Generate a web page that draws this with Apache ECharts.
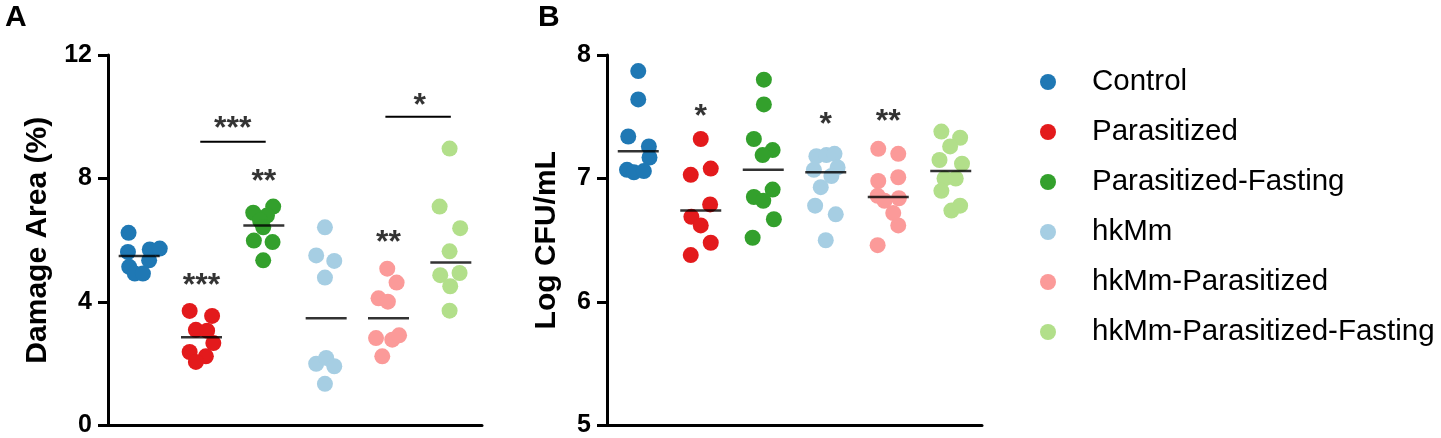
<!DOCTYPE html>
<html lang="en">
<head>
    <meta charset="UTF-8">
    <title>Damage area and CFU</title>
    <script src="https://cdn.jsdelivr.net/npm/echarts@6/dist/echarts.min.js"></script>
    <style>
        html, body { margin: 0; padding: 0; background: #fff; }
    </style>
</head>
<body>
<div id="main" style="width:1441px;height:438px"></div>
<script type="text/javascript">

    const categories = ['Control', 'Parasitized', 'Parasitized-Fasting', 'hkMm', 'hkMm-Parasitized', 'hkMm-Parasitized-Fasting'];

    // panel A - damage area (%)
    const damageControl = [6.24, 5.62, 5.70, 5.73, 5.35, 5.14, 4.92, 4.92];
    const damageParasitized = [3.71, 3.55, 3.10, 3.07, 2.67, 2.38, 2.24, 2.06];
    const damageParFasting = [6.89, 7.09, 6.80, 6.64, 6.42, 5.99, 5.94, 5.35];
    const damageHkMm = [6.42, 5.51, 5.33, 4.79, 2.00, 2.19, 1.92, 1.35];
    const damageHkMmPar = [5.08, 4.63, 4.12, 4.01, 2.83, 2.78, 2.92, 2.24];
    const damageHkMmParFasting = [8.97, 7.09, 6.39, 5.64, 4.87, 4.94, 4.51, 3.72];
    const damageMeans = [5.49, 2.86, 6.48, 3.47, 3.47, 5.28];

    // panel B - log CFU/mL
    const cfuControl = [7.87, 7.64, 7.34, 7.26, 7.17, 7.07, 7.05, 7.06];
    const cfuParasitized = [7.32, 7.08, 7.03, 6.79, 6.69, 6.62, 6.48, 6.38];
    const cfuParFasting = [7.80, 7.60, 7.32, 7.23, 7.19, 6.91, 6.85, 6.82, 6.67, 6.52];
    const cfuHkMm = [7.18, 7.19, 7.20, 7.07, 7.09, 7.02, 6.93, 6.78, 6.71, 6.50];
    const cfuHkMmPar = [7.24, 7.20, 6.98, 7.01, 6.86, 6.82, 6.84, 6.72, 6.62, 6.46];
    const cfuHkMmParFasting = [7.38, 7.33, 7.26, 7.15, 7.12, 7.00, 7.00, 6.90, 6.74, 6.78];
    const cfuMeans = [7.22, 6.74, 7.07, 7.05, 6.85, 7.06];

    // significance marks
    const sigTextA = ['***', '**', '**', '***', '*'];
    const sigCatA = [1, 2, 4, 1.5, 4.5];
    const sigYA = [4.76, 8.14, 6.16, 9.86, 10.59];
    const bracketFromA = [0.98, 3.95];
    const bracketToA = [2.03, 5.0];
    const bracketYA = [9.19, 10.0];
    const sigTextB = ['*', '*', '**'];
    const sigCatB = [1, 3, 4];
    const sigYB = [7.56, 7.50, 7.52];

    // horizontal scatter of the dots, in category widths (layout only)
    const jitterA = [
        [-0.17, -0.18, 0.17, 0.33, 0.16, -0.16, -0.07, 0.06],
        [-0.19, 0.17, -0.09, 0.09, 0.19, -0.19, 0.07, -0.09],
        [-0.17, 0.15, 0.05, -0.06, -0.01, -0.16, 0.14, -0.01],
        [-0.02, -0.16, 0.13, -0.02, -0.16, 0, 0.13, -0.02],
        [-0.02, 0.13, -0.16, -0.01, -0.2, 0.06, 0.17, -0.1],
        [-0.02, -0.18, 0.15, -0.02, -0.17, 0.14, -0.01, -0.02]
    ];
    const jitterB = [
        [0, 0, -0.16, 0.17, 0.18, -0.18, -0.07, 0.09],
        [0, 0.16, -0.16, 0.15, -0.15, 0, 0.16, -0.16],
        [0.01, 0.01, -0.15, 0.15, -0.01, 0.15, -0.15, 0, 0.17, -0.17],
        [-0.15, 0.01, 0.14, -0.19, 0.19, 0.09, -0.08, -0.17, 0.16, 0],
        [-0.16, 0.16, -0.16, 0.16, -0.17, -0.06, 0.17, 0.08, 0.16, -0.17],
        [-0.15, 0.15, -0.01, -0.18, 0.18, -0.1, 0.08, -0.15, 0.01, 0.15]
    ];

    const colors = ['#1f78b4', '#e31a1c', '#33a02c', '#a6cee3', '#fb9a99', '#b2df8a'];
    const FONT = '"Liberation Sans", Arial, sans-serif';

    const groupsA = [damageControl, damageParasitized, damageParFasting, damageHkMm, damageHkMmPar, damageHkMmParFasting];
    const groupsB = [cfuControl, cfuParasitized, cfuParFasting, cfuHkMm, cfuHkMmPar, cfuHkMmParFasting];

    function xAxisFor(gridIndex) {
        return {
            gridIndex: gridIndex,
            type: 'value',
            min: -0.5,
            max: 5.5,
            axisLine: { show: true, onZero: false, lineStyle: { color: '#000', width: 3 } },
            axisTick: { show: false },
            axisLabel: { show: false },
            splitLine: { show: false }
        };
    }

    function yAxisFor(gridIndex, name, min, max, interval, gap) {
        return {
            gridIndex: gridIndex,
            type: 'value',
            min: min,
            max: max,
            interval: interval,
            name: name,
            nameLocation: 'middle',
            nameGap: gap,
            nameTextStyle: { color: '#000', fontSize: 30, fontWeight: 'bold', fontFamily: FONT },
            axisLine: { show: true, onZero: false, lineStyle: { color: '#000', width: 3 } },
            axisTick: { show: true, length: 10, lineStyle: { color: '#000', width: 3 } },
            axisLabel: { color: '#000', fontSize: 25, fontWeight: 'bold', fontFamily: FONT, margin: 16 },
            splitLine: { show: false }
        };
    }

    let series = [];

    function addPanel(axisIdx, groups, jitter, means, sigText, sigCat, sigY) {
        groups.forEach(function (vals, i) {
            series.push({
                name: categories[i],
                type: 'scatter',
                xAxisIndex: axisIdx,
                yAxisIndex: axisIdx,
                symbol: 'circle',
                symbolSize: 16,
                itemStyle: { color: colors[i], opacity: 1 },
                data: vals.map(function (v, k) { return [i + jitter[i][k], v]; })
            });
        });
        // mean bars
        series.push({
            type: 'scatter',
            xAxisIndex: axisIdx,
            yAxisIndex: axisIdx,
            symbol: 'rect',
            symbolSize: [41, 2.5],
            itemStyle: { color: '#000' },
            z: 5,
            data: means.map(function (m, i) { return [i, m]; })
        });
        // asterisks
        series.push({
            type: 'scatter',
            xAxisIndex: axisIdx,
            yAxisIndex: axisIdx,
            symbolSize: 1,
            itemStyle: { color: 'rgba(0,0,0,0)' },
            z: 6,
            label: {
                show: true,
                position: 'inside',
                offset: [0, 8],
                color: '#000',
                fontSize: 32,
                fontWeight: 'bold',
                fontFamily: FONT,
                formatter: function (p) { return p.name; }
            },
            data: sigText.map(function (t, i) { return { name: t, value: [sigCat[i], sigY[i]] }; })
        });
    }

    addPanel(0, groupsA, jitterA, damageMeans, sigTextA, sigCatA, sigYA);
    addPanel(1, groupsB, jitterB, cfuMeans, sigTextB, sigCatB, sigYB);

    // brackets in panel A
    bracketYA.forEach(function (y, i) {
        series.push({
            type: 'line',
            xAxisIndex: 0,
            yAxisIndex: 0,
            symbol: 'none',
            lineStyle: { color: '#000', width: 2 },
            data: [[bracketFromA[i], y], [bracketToA[i], y]]
        });
    });

    var option = {
        animation: false,
        backgroundColor: '#fff',
        title: [
            { text: 'A', left: 0, top: -2, textStyle: { fontSize: 30, fontWeight: 'bold', color: '#000', fontFamily: FONT } },
            { text: 'B', left: 533, top: -2, textStyle: { fontSize: 30, fontWeight: 'bold', color: '#000', fontFamily: FONT } }
        ],
        legend: {
            data: categories,
            orient: 'vertical',
            left: 1040,
            top: 67,
            padding: 0,
            icon: 'circle',
            itemWidth: 78,
            itemHeight: 16,
            itemGap: 20,
            textStyle: { fontSize: 29.5, color: '#000', fontFamily: FONT, lineHeight: 30 }
        },
        grid: [
            { left: 108, top: 55, width: 374, height: 373 },
            { left: 607, top: 55, width: 375, height: 373 }
        ],
        xAxis: [xAxisFor(0), xAxisFor(1)],
        yAxis: [
            yAxisFor(0, 'Damage Area (%)', 0, 12, 4, 55),
            yAxisFor(1, 'Log CFU/mL', 5, 8, 1, 45)
        ],
        series: series
    };

    var myChart = echarts.init(document.getElementById('main'));
    myChart.setOption(option, true);

</script>
</body>
</html>
